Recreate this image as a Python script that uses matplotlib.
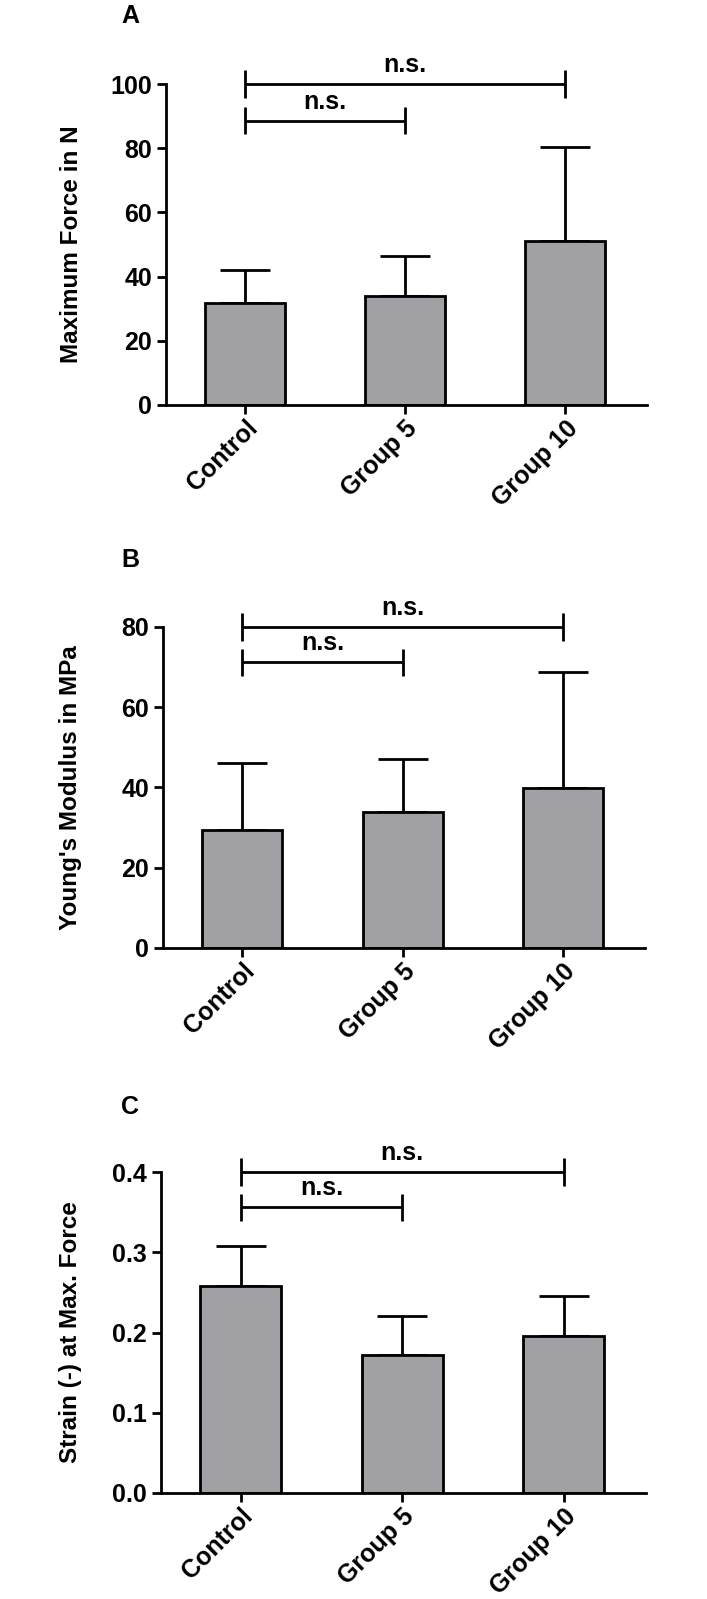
import numpy as np
import matplotlib
matplotlib.use("Agg")
import matplotlib.pyplot as plt
from matplotlib.transforms import blended_transform_factory
from matplotlib.ticker import FormatStrFormatter

plt.rcParams['font.family'] = ['Liberation Sans', 'DejaVu Sans']
plt.rcParams['font.weight'] = 'bold'

# --- data ---
groups = ['Control', 'Group 5', 'Group 10']

force_mean = [31.8, 34.0, 51.1]
force_sd = [10.4, 12.3, 29.2]

modulus_mean = [29.3, 33.9, 39.8]
modulus_sd = [16.9, 13.2, 29.1]

strain_mean = [0.258, 0.172, 0.196]
strain_sd = [0.050, 0.048, 0.050]

panel_letters = ['A', 'B', 'C']
ylabels = ['Maximum Force in N', "Young's Modulus in MPa", 'Strain (-) at Max. Force']
yticks_list = [[0, 20, 40, 60, 80, 100], [0, 20, 40, 60, 80], [0.0, 0.1, 0.2, 0.3, 0.4]]
# significance brackets: (from, to, height, label)
brackets_list = [
    [(0, 1, 88.6, 'n.s.'), (0, 2, 100, 'n.s.')],
    [(0, 1, 71.2, 'n.s.'), (0, 2, 80, 'n.s.')],
    [(0, 1, 0.356, 'n.s.'), (0, 2, 0.4, 'n.s.')],
]

means = [force_mean, modulus_mean, strain_mean]
sds = [force_sd, modulus_sd, strain_sd]

W, H = 707, 1599
fig = plt.figure(figsize=(W / 100, H / 100), dpi=100)

# axes boxes in pixels: left, right, top, bottom
boxes = [(166, 647, 84, 405), (163, 645, 627, 948), (161, 646, 1172, 1493)]
letter_pos = [(130, 16), (130, 560), (130, 1107)]

bar_color = '#a1a1a5'
lw = 2.0

for i in range(3):
    l, r, t, b = boxes[i]
    ax = fig.add_axes([l / W, 1 - b / H, (r - l) / W, (b - t) / H])
    x = np.arange(len(groups))
    top = yticks_list[i][-1]

    ax.errorbar(x, means[i], yerr=[np.zeros(3), sds[i]], fmt='none',
                ecolor='black', elinewidth=lw, capsize=18, capthick=lw, zorder=1)
    ax.bar(x, means[i], width=0.5, color=bar_color, edgecolor='black',
           linewidth=lw, zorder=2)

    ax.set_xlim(-0.494, 2.51)
    ax.set_ylim(0, top)
    ax.set_yticks(yticks_list[i])
    if i == 2:
        ax.yaxis.set_major_formatter(FormatStrFormatter('%.1f'))
    ax.set_xticks(x)
    ax.set_xticklabels(groups, rotation=45, ha='right', va='top',
                       rotation_mode='anchor', fontsize=18, fontweight='bold')

    for s in ['top', 'right']:
        ax.spines[s].set_visible(False)
    for s in ['left', 'bottom']:
        ax.spines[s].set_linewidth(lw)
    ax.tick_params(width=lw, length=6.5, labelsize=18, pad=3.5)
    ax.tick_params(axis='x', pad=1.5)
    for lab in ax.get_yticklabels():
        lab.set_fontweight('bold')

    ax.set_ylabel(ylabels[i], fontsize=17.5, fontweight='bold', va='center')
    ax.yaxis.set_label_coords(71 / W, 0.5,
                              transform=blended_transform_factory(fig.transFigure, ax.transAxes))

    # brackets
    tick_h = 13.8 / (b - t) * top
    for x0, x1, yb, txt in brackets_list[i]:
        ax.plot([x0, x1], [yb, yb], color='black', lw=lw, clip_on=False,
                solid_capstyle='butt')
        for xx in (x0, x1):
            ax.plot([xx, xx], [yb - tick_h, yb + tick_h], color='black', lw=lw,
                    clip_on=False, solid_capstyle='butt')
        ax.annotate(txt, xy=((x0 + x1) / 2, yb), xytext=(0, 5),
                    textcoords='offset points', ha='center', va='bottom',
                    fontsize=18, fontweight='bold', annotation_clip=False)

    lx, ly = letter_pos[i]
    fig.text(lx / W, 1 - ly / H, panel_letters[i], fontsize=18,
             fontweight='bold', ha='center', va='center')

fig.savefig('out.png', dpi=100)
